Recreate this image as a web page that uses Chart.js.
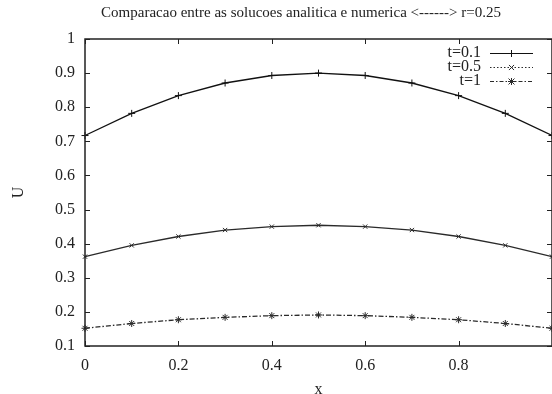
<!DOCTYPE html>
<html>
<head>
<meta charset="utf-8">
<script src="https://cdn.jsdelivr.net/npm/chart.js@4/dist/chart.umd.min.js"></script>
<style>
html,body{margin:0;padding:0;background:#fff;}
#c{display:block;}
</style>
</head>
<body>
<canvas id="c" width="552" height="394"></canvas>
<script>
const titleText = "Comparacao entre as solucoes analitica e numerica <------> r=0.25";
const xValues = [0, 0.1, 0.2, 0.3, 0.4, 0.5, 0.6, 0.7, 0.8, 0.9, 1.0];
const seriesNames = ["t=0.1", "t=0.5", "t=1"];
const uT01 = [0.717, 0.782, 0.834, 0.871, 0.893, 0.900, 0.893, 0.871, 0.834, 0.782, 0.717];
const uT05 = [0.362, 0.395, 0.421, 0.440, 0.450, 0.454, 0.450, 0.440, 0.421, 0.395, 0.362];
const uT1  = [0.152, 0.166, 0.177, 0.184, 0.189, 0.191, 0.189, 0.184, 0.177, 0.166, 0.152];
const xTicks = [0, 0.2, 0.4, 0.6, 0.8, 1];
const yTicks = [0.1, 0.2, 0.3, 0.4, 0.5, 0.6, 0.7, 0.8, 0.9, 1];

const FONT = "'Liberation Serif', 'DejaVu Serif', serif";
const toPts = (ys) => xValues.map((x, i) => ({x: x, y: ys[i]}));

const styles = [
  {color: '#111', plotDash: [], legendDash: [], marker: 'cross', r: 3.5},
  {color: '#2a2a2a', plotDash: [], legendDash: [1.5, 2], marker: 'crossRot', r: 3},
  {color: '#2a2a2a', plotDash: [5, 2, 1.5, 2], legendDash: [4, 2, 1.5, 2], marker: 'star', r: 3.5}
];

function drawMarker(ctx, type, x, y, r) {
  ctx.beginPath();
  if (type === 'cross' || type === 'star') {
    ctx.moveTo(x - r, y); ctx.lineTo(x + r, y);
    ctx.moveTo(x, y - r); ctx.lineTo(x, y + r);
  }
  if (type === 'crossRot' || type === 'star') {
    const d = r * 0.85;
    ctx.moveTo(x - d, y - d); ctx.lineTo(x + d, y + d);
    ctx.moveTo(x - d, y + d); ctx.lineTo(x + d, y - d);
  }
  ctx.stroke();
}

const framePlugin = {
  id: 'frame',
  afterDraw(chart) {
    const ctx = chart.ctx;
    const a = chart.chartArea;
    const xs = chart.scales.x, ys = chart.scales.y;
    ctx.save();
    ctx.strokeStyle = '#222';
    ctx.lineWidth = 1.5;
    ctx.setLineDash([]);
    ctx.strokeRect(a.left, a.top, a.right - a.left, a.bottom - a.top);
    ctx.lineWidth = 1;
    const L = 5;
    ctx.beginPath();
    xTicks.forEach(v => {
      const px = Math.round(xs.getPixelForValue(v)) + 0.5;
      ctx.moveTo(px, a.bottom); ctx.lineTo(px, a.bottom - L);
      ctx.moveTo(px, a.top); ctx.lineTo(px, a.top + L);
    });
    yTicks.forEach(v => {
      const py = Math.round(ys.getPixelForValue(v)) + 0.5;
      ctx.moveTo(a.left, py); ctx.lineTo(a.left + L, py);
      ctx.moveTo(a.right, py); ctx.lineTo(a.right - L, py);
    });
    ctx.stroke();
    // title
    ctx.fillStyle = '#222';
    ctx.font = "15px " + FONT;
    ctx.textAlign = 'center';
    ctx.textBaseline = 'middle';
    ctx.fillText(titleText, 301, 13);
    // legend
    ctx.font = "16px " + FONT;
    ctx.textAlign = 'right';
    seriesNames.forEach((name, i) => {
      const y = 53 + i * 14;
      const s = styles[i];
      ctx.fillStyle = '#222';
      ctx.fillText(name, 481, y);
      ctx.strokeStyle = s.color;
      ctx.lineWidth = 1;
      ctx.setLineDash(s.legendDash);
      ctx.beginPath(); ctx.moveTo(490, y + 0.5); ctx.lineTo(533, y + 0.5); ctx.stroke();
      ctx.setLineDash([]);
      drawMarker(ctx, s.marker, 511.5, y + 0.5, s.r);
    });
    ctx.restore();
  }
};

const datasets = [uT01, uT05, uT1].map((ys, i) => ({
  label: seriesNames[i],
  data: toPts(ys),
  borderColor: styles[i].color,
  backgroundColor: styles[i].color,
  borderWidth: 1.3,
  borderDash: styles[i].plotDash,
  pointStyle: styles[i].marker,
  pointRadius: styles[i].r,
  pointBorderWidth: 1,
  pointBorderColor: styles[i].color,
  tension: 0,
  fill: false,
  clip: false
}));

new Chart(document.getElementById('c'), {
  type: 'line',
  data: {datasets: datasets},
  plugins: [framePlugin],
  options: {
    responsive: false,
    animation: false,
    layout: {autoPadding: false, padding: {top: 39, right: 0, left: 0, bottom: 0}},
    plugins: {legend: {display: false}, title: {display: false}, tooltip: {enabled: false}},
    scales: {
      x: {
        type: 'linear', min: 0, max: 1,
        afterFit(s) { s.height = 48; s.paddingRight = 0; s.paddingLeft = 0; },
        afterBuildTicks(s) { s.ticks = xTicks.map(v => ({value: v})); },
        grid: {display: false, drawTicks: false},
        border: {display: false},
        ticks: {
          padding: 10, color: '#222', font: {family: FONT, size: 16},
          maxRotation: 0, autoSkip: false,
          callback: (v) => (v >= 1 ? '' : String(Math.round(v * 10) / 10))
        },
        title: {display: true, text: 'x', color: '#222', font: {family: FONT, size: 16}, padding: {top: 0, bottom: -5}}
      },
      y: {
        type: 'linear', min: 0.1, max: 1,
        afterFit(s) { s.width = 85; s.paddingTop = 0; s.paddingBottom = 0; },
        afterBuildTicks(s) { s.ticks = yTicks.map(v => ({value: v})); },
        grid: {display: false, drawTicks: false},
        border: {display: false},
        ticks: {
          padding: 10, color: '#222', font: {family: FONT, size: 16}, autoSkip: false,
          callback: (v) => String(Math.round(v * 10) / 10)
        },
        title: {display: true, text: 'U', color: '#222', font: {family: FONT, size: 16}, padding: {top: 9, bottom: 0}}
      }
    }
  }
});
</script>
</body>
</html>
